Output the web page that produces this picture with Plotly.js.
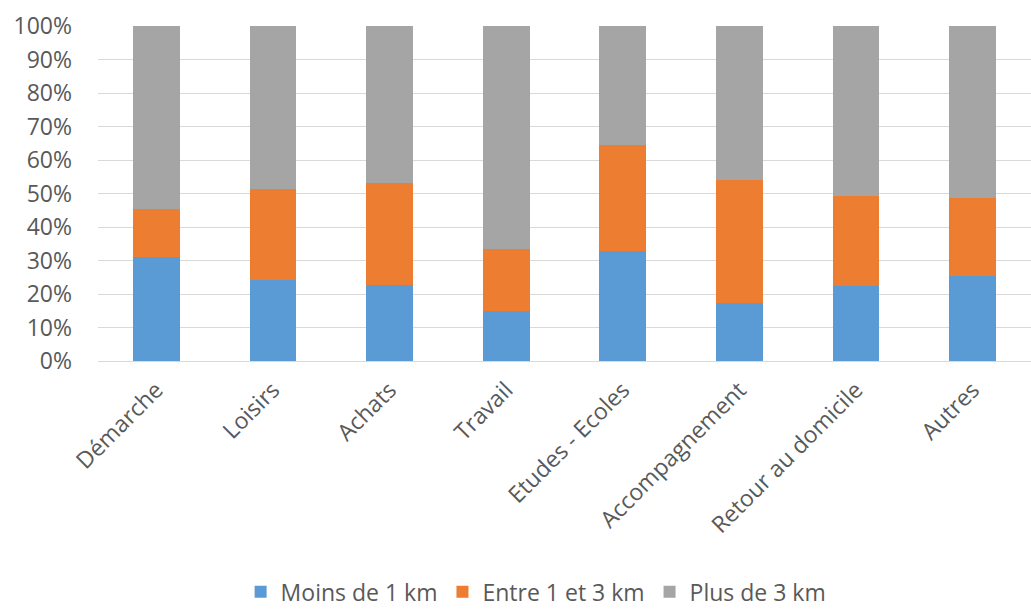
<!DOCTYPE html>
<html><head><meta charset="utf-8">
<script src="https://cdn.plot.ly/plotly-3.0.1.min.js"></script>
<style>body{margin:0;background:#fff}</style>
</head><body>
<div id="chart" style="width:1031px;height:610px"></div>
<script>
const categories = ["Démarche","Loisirs","Achats","Travail","Etudes - Ecoles","Accompagnement","Retour au domicile","Autres"];
const moins1 = [31.1, 24.1, 22.8, 14.8, 32.9, 17.2, 22.4, 25.4];
const entre13 = [14.4, 27.2, 30.2, 18.5, 31.5, 36.8, 26.8, 23.3];
const plus3 = moins1.map((v,i)=>+(100 - v - entre13[i]).toFixed(1));
const seriesNames = ["Moins de 1 km","Entre 1 et 3 km","Plus de 3 km"];
const colors = ["#5b9bd5","#ed7d31","#a5a5a5"];
const font = "Open Sans, sans-serif";
const data = [moins1, entre13, plus3].map((vals,i)=>({
  type:'bar', x:categories, y:vals, name:seriesNames[i],
  marker:{color:colors[i], line:{width:0}}
}));
const layout = {
  width:1031, height:610, barmode:'stack', bargap:0.6,
  margin:{l:98, r:0, t:26, b:249},
  paper_bgcolor:'#fff', plot_bgcolor:'#fff',
  font:{family:font, size:23, color:'#595959'},
  xaxis:{tickangle:-45, showgrid:false, ticks:'', showline:false, ticklabelstandoff:10, tickfont:{size:23,color:'#595959'}},
  yaxis:{range:[0,100], dtick:10, ticksuffix:'%', gridcolor:'#d9d9d9', gridwidth:1, ticklabelstandoff:25,
         zeroline:true, zerolinecolor:'#d9d9d9', zerolinewidth:1, ticks:'', tickfont:{size:23,color:'#595959'}},
  showlegend:true,
  legend:{orientation:'h', traceorder:'normal', xref:'container', x:0.52, xanchor:'center', yref:'container', y:0.03, yanchor:'middle',
          font:{size:23,color:'#595959'}, itemwidth:30, tracegroupgap:0},
};
Plotly.newPlot('chart', data, layout, {displayModeBar:false, staticPlot:true});
</script>
</body></html>
